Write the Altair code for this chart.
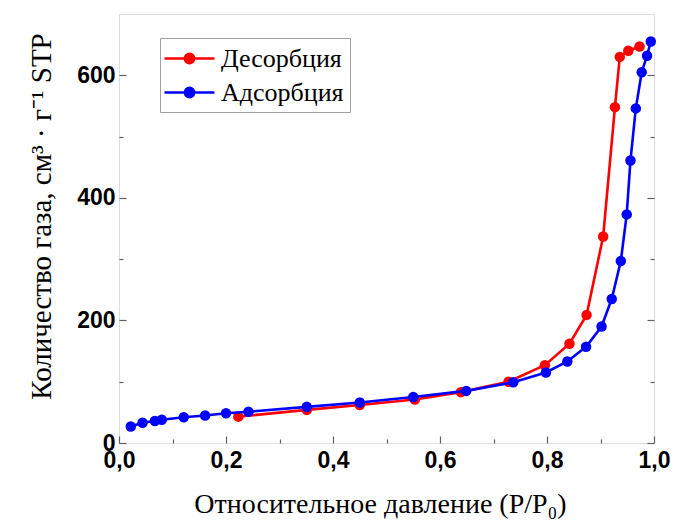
import altair as alt
import pandas as pd

# Desorption branch (relative pressure, adsorbed volume)
des_p = [0.223, 0.351, 0.450, 0.553, 0.639, 0.728, 0.796, 0.842, 0.874, 0.905, 0.927, 0.936, 0.952, 0.973]
des_v = [43, 54, 62, 71, 83, 100, 127, 162, 209, 337, 548, 630, 640, 647]

# Adsorption branch
ads_p = [0.022, 0.044, 0.067, 0.080, 0.121, 0.161, 0.200, 0.242, 0.351, 0.450, 0.550, 0.649,
         0.737, 0.798, 0.838, 0.873, 0.902, 0.921, 0.938, 0.949, 0.956, 0.966, 0.977, 0.987, 0.994]
ads_v = [27, 33, 36, 38, 42, 45, 48.5, 51, 59, 66, 75, 85,
         99, 115, 133, 157, 190, 235, 297, 373, 461, 546, 605, 632, 655]

series_names = ["Десорбция", "Адсорбция"]
series_colors = ["#ff0000", "#0000ff"]

x_major = [0.0, 0.2, 0.4, 0.6, 0.8, 1.0]
x_minor = [0.1, 0.3, 0.5, 0.7, 0.9]
y_major = [0, 200, 400, 600]
y_minor = [100, 300, 500]

x_title = "Относительное давление (P/P₀)"
y_title = "Количество газа, см³ · г⁻¹ STP"

df = pd.concat([
    pd.DataFrame({"p": des_p, "v": des_v, "series": series_names[0]}),
    pd.DataFrame({"p": ads_p, "v": ads_v, "series": series_names[1]}),
], ignore_index=True)

W, H = 535, 429
xs = alt.Scale(domain=[0, 1], nice=False, zero=False)
ys = alt.Scale(domain=[0, 700], nice=False)
cs = alt.Scale(domain=series_names, range=series_colors)

# line + dot legend glyph (size 26px nominal, drawn 50px wide)
legend_path = ("M-1.92,0L1.92,0M0.36,0A0.36,0.36,0,1,1,-0.36,0A0.36,0.36,0,1,1,0.36,0Z")
leg = alt.Legend(
    title=None, orient="none", legendX=41, legendY=24,
    symbolType=legend_path, symbolSize=676, symbolStrokeWidth=2.5,
    symbolOpacity=1, symbolOffset=9,
    labelFont="Liberation Serif", labelFontSize=26, labelColor="black",
    labelOffset=17, padding=6, rowPadding=6,
    strokeColor="#a0a0a0", fillColor="white",
)

tick_col = "#606060"
ax_common = dict(domain=False, grid=False, tickColor=tick_col, tickWidth=1.2, labelFlush=False)

x_ax_major = alt.Axis(
    values=x_major, orient="bottom", offset=-7, tickSize=7, labelPadding=6,
    labelExpr="replace(format(datum.value, '.1f'), '.', ',')",
    labelFont="Liberation Sans", labelFontWeight="bold", labelFontSize=23, labelColor="black",
    title=x_title, titleFont="Liberation Serif", titleFontWeight="normal", titleFontSize=28,
    titleColor="black", titleX=261, titleY=76, titleBaseline="alphabetic", titleAlign="center",
    **ax_common)
x_ax_minor = alt.Axis(values=x_minor, orient="bottom", offset=-4, tickSize=4,
                      labels=False, title=None, **ax_common)

y_ax_major = alt.Axis(
    values=y_major, orient="left", offset=-7, tickSize=7, labelPadding=4,
    labelFont="Liberation Sans", labelFontWeight="bold", labelFontSize=23, labelColor="black",
    title=y_title, titleFont="Liberation Serif", titleFontWeight="normal", titleFontSize=29,
    titleColor="black", titleX=-76, titleY=202, titleBaseline="alphabetic", titleAlign="center",
    titleAngle=270, **ax_common)
y_ax_minor = alt.Axis(values=y_minor, orient="left", offset=-4, tickSize=4,
                      labels=False, title=None, **ax_common)
y_ax_major_r = alt.Axis(values=y_major, orient="right", offset=-7, tickSize=7,
                        labels=False, title=None, **ax_common)
y_ax_minor_r = alt.Axis(values=y_minor, orient="right", offset=-4, tickSize=4,
                        labels=False, title=None, **ax_common)

base = alt.Chart(df)


def make_layer(name, kind, xax, yax):
    c = base.transform_filter(alt.datum.series == name)
    if kind == "line":
        c = c.mark_line(strokeWidth=2.6)
    else:
        c = c.mark_circle(size=110, opacity=1)
    return c.encode(
        x=alt.X("p:Q", scale=xs, axis=xax),
        y=alt.Y("v:Q", scale=ys, axis=yax),
        color=alt.Color("series:N", scale=cs, legend=leg),
    )


chart = alt.layer(
    make_layer(series_names[0], "line", x_ax_major, y_ax_major),
    make_layer(series_names[0], "point", x_ax_minor, y_ax_minor),
    make_layer(series_names[1], "line", None, y_ax_major_r),
    make_layer(series_names[1], "point", None, y_ax_minor_r),
).resolve_axis(x="independent", y="independent").properties(
    width=W, height=H,
    autosize=alt.AutoSizeParams(type="none"),
    padding={"left": 119, "top": 14, "right": 19, "bottom": 77},
).configure_view(stroke="#808080", strokeWidth=2).configure(background="white")

chart.save("out.html", embed_options={"renderer": "svg", "actions": False})
